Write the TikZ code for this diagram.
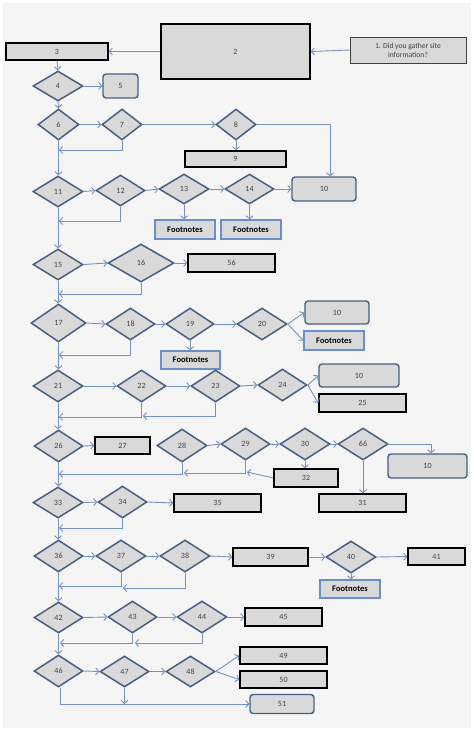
\documentclass[tikz,border=0pt]{standalone}
\usepackage{fontspec}
\setmainfont{Carlito}
\usetikzlibrary{shapes.geometric,arrows.meta}
\definecolor{bgG}{HTML}{F5F5F6}
\definecolor{fillG}{HTML}{D9D9D9}
\definecolor{diaB}{HTML}{475F82}
\definecolor{lineC}{HTML}{7392C0}
\definecolor{fnB}{HTML}{6A8FC8}
\definecolor{txtG}{HTML}{404040}
\tikzset{
  numf/.style={font=\fontsize{8}{9}\selectfont, text=txtG},
  dia/.style={diamond, draw=diaB, fill=fillG, line width=1.5pt, inner sep=0pt, numf},
  bbox/.style={rectangle, draw=black, fill=fillG, line width=1.5pt, inner sep=0pt, numf},
  rbox/.style={rectangle, rounded corners=3pt, draw=diaB, fill=fillG, line width=1.4pt, inner sep=0pt, numf},
  fbox/.style={rectangle, draw=fnB, fill=fillG, line width=1.3pt, inner sep=0pt, font=\fontsize{8.5}{10}\selectfont\bfseries, text=black},
  conn/.style={draw=lineC, line width=0.9pt, -{Straight Barb[length=3pt,width=7pt]}},
  sz/.style 2 args={minimum width=#1pt, minimum height=#2pt},
}
\begin{document}
\begin{tikzpicture}[x=1pt,y=-1pt]
\fill[white] (0,0) rectangle (474,732);
\fill[bgG] (3,3) rectangle (471,728);
\useasboundingbox (0,0) rectangle (474,732);

% top row
\node[rectangle, draw=txtG, fill=fillG, line width=1pt, sz={116}{26}, align=center, font=\fontsize{7.6}{8.8}\selectfont, text=txtG] (b1) at (408,50) {1. Did you gather site\\information?};
\node[bbox, sz={149}{55}] (b2) at (235.5,51.5) {2};
\node[bbox, sz={102}{17}] (b3) at (57,51.5) {3};

\node[dia, sz={50}{30}] (d4) at (58,86) {4};
\node[rbox, sz={35}{24}] (r5) at (120.5,86) {5};
\node[dia, sz={41}{31}] (d6) at (58.5,124.5) {6};
\node[dia, sz={40}{31}] (d7) at (122,124.5) {7};
\node[dia, sz={40}{31}] (d8) at (236,124.5) {8};
\node[bbox, sz={101}{16}] (b9) at (235.5,159) {9};

\node[dia, sz={50}{31}] (d11) at (58,191.5) {11};
\node[dia, sz={49}{31}] (d12) at (120.5,190.5) {12};
\node[dia, sz={50}{30}] (d13) at (184,189) {13};
\node[dia, sz={49}{30}] (d14) at (249.5,189) {14};
\node[rbox, sz={64}{24}] (r10a) at (324,189) {10};
\node[fbox, sz={60}{19}] (f13) at (185,229.5) {Footnotes};
\node[fbox, sz={60}{19}] (f14) at (251,229.5) {Footnotes};

\node[dia, sz={50}{31}] (d15) at (58,264.5) {15};
\node[dia, sz={66}{38}] (d16) at (141,263) {16};
\node[bbox, sz={87}{18}] (b56) at (231.5,263) {56};

\node[dia, sz={55}{38}] (d17) at (58.5,323) {17};
\node[dia, sz={49}{32}] (d18) at (130.5,324) {18};
\node[dia, sz={48}{32}] (d19) at (190,324) {19};
\node[dia, sz={50}{32}] (d20) at (262,324) {20};
\node[rbox, sz={64}{23}] (r10b) at (337,312.5) {10};
\node[fbox, sz={60}{19}] (f20) at (334,340.5) {Footnotes};
\node[fbox, sz={59}{18}] (f19) at (190.5,360) {Footnotes};

\node[dia, sz={50}{32}] (d21) at (58,386) {21};
\node[dia, sz={49}{32}] (d22) at (141.5,386) {22};
\node[dia, sz={49}{32}] (d23) at (215.5,386) {23};
\node[dia, sz={49}{32}] (d24) at (282.5,385) {24};
\node[rbox, sz={80}{23}] (r10c) at (359,375.5) {10};
\node[bbox, sz={87}{18}] (b25) at (362.5,403) {25};

\node[dia, sz={49}{32}] (d26) at (58.5,446) {26};
\node[bbox, sz={55}{17}] (b27) at (122.5,445.5) {27};
\node[dia, sz={50}{33}] (d28) at (182,445.5) {28};
\node[dia, sz={49}{32}] (d29) at (245.5,444) {29};
\node[dia, sz={50}{32}] (d30) at (305,444) {30};
\node[dia, sz={50}{32}] (d66) at (363,444) {66};
\node[rbox, sz={79}{24}] (r10d) at (427.5,466) {10};
\node[bbox, sz={64}{18}] (b32) at (306,478) {32};
\node[bbox, sz={87}{18}] (b31) at (362.5,503) {31};

\node[dia, sz={50}{31}] (d33) at (58,502.5) {33};
\node[dia, sz={49}{32}] (d34) at (122.5,502) {34};
\node[bbox, sz={87}{18}] (b35) at (217.5,503) {35};

\node[dia, sz={49}{32}] (d36) at (58.5,556) {36};
\node[dia, sz={50}{32}] (d37) at (121,556) {37};
\node[dia, sz={50}{32}] (d38) at (185,556) {38};
\node[bbox, sz={75}{18}] (b39) at (270.5,557) {39};
\node[dia, sz={50}{32}] (d40) at (351,557) {40};
\node[bbox, sz={57}{17}] (b41) at (436.5,556.5) {41};
\node[fbox, sz={60}{18}] (f40) at (350,589) {Footnotes};

\node[dia, sz={49}{31}] (d42) at (58.5,617.5) {42};
\node[dia, sz={49}{32}] (d43) at (132.5,617) {43};
\node[dia, sz={50}{32}] (d44) at (202,617) {44};
\node[bbox, sz={77}{18}] (b45) at (283.5,617) {45};

\node[dia, sz={49}{32}] (d46) at (58.5,671) {46};
\node[dia, sz={49}{31}] (d47) at (124.5,671.5) {47};
\node[dia, sz={49}{31}] (d48) at (190.5,671.5) {48};
\node[bbox, sz={87}{17}] (b49) at (283.5,655.5) {49};
\node[bbox, sz={87}{17}] (b50) at (283.5,679.5) {50};
\node[rbox, sz={64}{19}] (r51) at (282,704) {51};

% free-end coordinates
\coordinate (m7) at (59,150);
\coordinate (m12) at (59,221);
\coordinate (m16) at (59,294);
\coordinate (m18) at (59,355);
\coordinate (m23) at (143,416);
\coordinate (m22) at (59,417);
\coordinate (m32) at (247,472);
\coordinate (m29) at (184,473);
\coordinate (m28) at (59,474);
\coordinate (m34) at (59,528);
\coordinate (m37) at (59,586);
\coordinate (m38) at (123,588);
\coordinate (m43) at (60,643);
\coordinate (m44) at (135,643);
\coordinate (x8) at (330,124.5);
\coordinate (x66) at (431,444);

% connectors
\draw[conn] (b1.west) -- (b2.east);
\draw[conn] (b2.west) -- (b3.east);
\draw[conn] (b3.south) -- (d4.north);
\draw[conn] (d4.east) -- (r5.west);
\draw[conn] (d4.south) -- (d6.north);
\draw[conn] (d6.east) -- (d7.west);
\draw[conn] (d7.east) -- (d8.west);
\draw[conn] (d8.east) -- (x8) -- (x8 |- r10a.north);
\draw[conn] (d8.south) -- (d8.south |- b9.north);
\draw[conn] (d7.south) |- (m7);
\draw[conn] (d6.south) -- (d6.south |- d11.north);

\draw[conn] (d11.east) -- (d12.west);
\draw[conn] (d12.east) -- (d13.west);
\draw[conn] (d13.east) -- (d14.west);
\draw[conn] (d14.east) -- (r10a.west);
\draw[conn] (d13.south) -- (d13.south |- f13.north);
\draw[conn] (d14.south) -- (d14.south |- f14.north);
\draw[conn] (d12.south) |- (m12);
\draw[conn] (d11.south) -- (d15.north);

\draw[conn] (d15.east) -- (d16.west);
\draw[conn] (d16.east) -- (b56.west);
\draw[conn] (d16.south) |- (m16);
\draw[conn] (d15.south) -- (d15.south |- d17.north);

\draw[conn] (d17.east) -- (d18.west);
\draw[conn] (d18.east) -- (d19.west);
\draw[conn] (d19.east) -- (d20.west);
\draw[conn] (d20.east) -- (r10b.west);
\draw[conn] (d20.east) -- (f20.west);
\draw[conn] (d19.south) -- (d19.south |- f19.north);
\draw[conn] (d18.south) |- (m18);
\draw[conn] (d17.south) -- (d17.south |- d21.north);

\draw[conn] (d21.east) -- (d22.west);
\draw[conn] (d22.east) -- (d23.west);
\draw[conn] (d23.east) -- (d24.west);
\draw[conn] (d24.east) -- (r10c.west);
\draw[conn] (d24.east) -- (b25.west);
\draw[conn] (d23.south) |- (m23);
\draw[conn] (d22.south) |- (m22);
\draw[conn] (d21.south) -- (d21.south |- d26.north);

\draw[conn] (d26.east) -- (b27.west);
\draw[conn] (d28.east) -- (d29.west);
\draw[conn] (d29.east) -- (d30.west);
\draw[conn] (d30.east) -- (d66.west);
\draw[conn] (d66.east) -- (x66) -- (x66 |- r10d.north);
\draw[conn] (d30.south) -- (d30.south |- b32.north);
\draw[conn] (d66.south) -- (d66.south |- b31.north);
\draw[conn] (b32.west) -- (m32);
\draw[conn] (d29.south) |- (m29);
\draw[conn] (d28.south) |- (m28);
\draw[conn] (d26.south) -- (d26.south |- d33.north);

\draw[conn] (d33.east) -- (d34.west);
\draw[conn] (d34.east) -- (b35.west);
\draw[conn] (d34.south) |- (m34);
\draw[conn] (d33.south) -- (d33.south |- d36.north);

\draw[conn] (d36.east) -- (d37.west);
\draw[conn] (d37.east) -- (d38.west);
\draw[conn] (d38.east) -- (b39.west);
\draw[conn] (b39.east) -- (d40.west);
\draw[conn] (d40.east) -- (b41.west);
\draw[conn] (d40.south) -- (d40.south |- f40.north);
\draw[conn] (d37.south) |- (m37);
\draw[conn] (d38.south) |- (m38);
\draw[conn] (d36.south) -- (d36.south |- d42.north);

\draw[conn] (d42.east) -- (d43.west);
\draw[conn] (d43.east) -- (d44.west);
\draw[conn] (d44.east) -- (b45.west);
\draw[conn] (d43.south) |- (m43);
\draw[conn] (d44.south) |- (m44);
\draw[conn] (d42.south) -- (d42.south |- d46.north);

\draw[conn] (d46.east) -- (d47.west);
\draw[conn] (d47.east) -- (d48.west);
\draw[conn] (d48.east) -- (b49.west);
\draw[conn] (d48.east) -- (b50.west);
\draw[conn] ([xshift=1.5pt]d46.south) |- (r51.west);
\draw[conn] (d47.south) -- (d47.south |- r51.west);
\end{tikzpicture}
\end{document}
